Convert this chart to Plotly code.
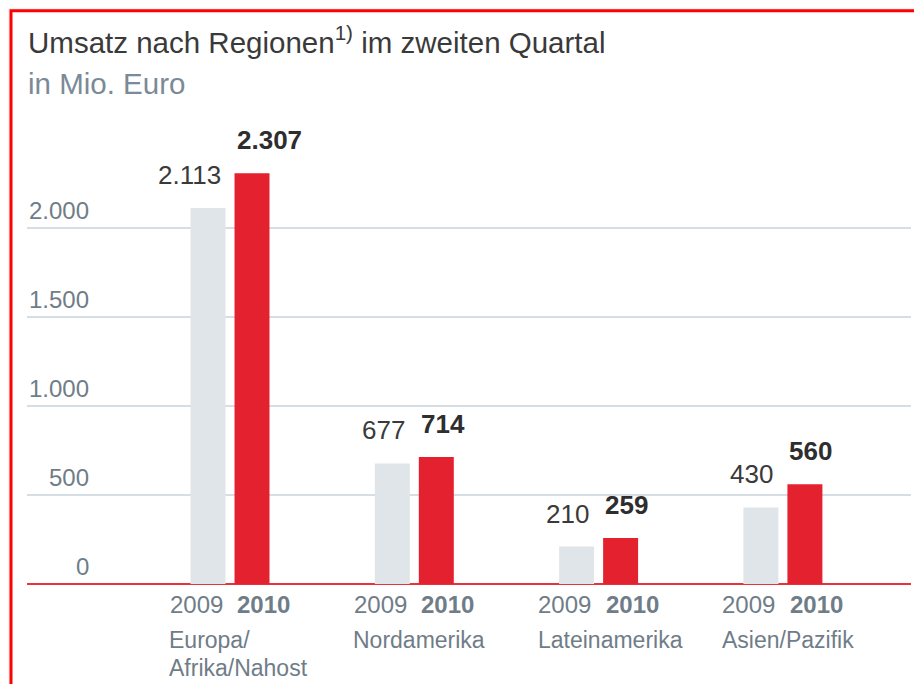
import plotly.graph_objects as go

# ---- data ----
regions = ["Europa/Afrika/Nahost", "Nordamerika", "Lateinamerika", "Asien/Pazifik"]
region_lines = [["Europa/", "Afrika/Nahost"], ["Nordamerika"], ["Lateinamerika"], ["Asien/Pazifik"]]
years = ["2009", "2010"]
sales_2009 = [2113, 677, 210, 430]
sales_2010 = [2307, 714, 259, 560]
y_ticks = [0, 500, 1000, 1500, 2000]
y_tick_labels = ["0", "500", "1.000", "1.500", "2.000"]

title_text = "Umsatz nach Regionen<sup>1)</sup> im zweiten Quartal"
subtitle_text = "in Mio. Euro"


def de(v):
    return f"{v:,}".replace(",", ".")


# ---- layout constants (figure sits 8px in from the page corner) ----
OFF = 8
W, H = 922 - OFF, 684 - OFF
ML, MR, MT, MB = 27 - OFF, 11, 110 - OFF, 100
PW = W - ML - MR
PH = H - MT - MB
ZERO_PX = H - MB


def px_x(p):  # p in page pixels
    return (p - OFF - ML) / PW


def px_y(p):
    return (ZERO_PX - (p - OFF)) / PH


FONT = "Liberation Sans, Arial, sans-serif"
C_GREY_BAR = "#dfe5e9"
C_RED_BAR = "#e4222f"
C_LABEL = "#3a3a3a"
C_AXIS_TXT = "#6f7d88"
C_GRID = "#d5dee5"

fig = go.Figure()
fig.add_trace(go.Bar(name=years[0], x=regions, y=sales_2009, marker_color=C_GREY_BAR,
                     marker_line_width=0, hoverinfo="x+y"))
fig.add_trace(go.Bar(name=years[1], x=regions, y=sales_2010, marker_color=C_RED_BAR,
                     marker_line_width=0, hoverinfo="x+y"))

ann = []
for i, (a, b) in enumerate(zip(sales_2009, sales_2010)):
    # value labels
    ann.append(dict(x=i, y=a, xref="x", yref="y", text=de(a), showarrow=False,
                    xanchor="right", yanchor="bottom", xshift=-7.5, yshift=16,
                    font=dict(family=FONT, size=26, color=C_LABEL)))
    ann.append(dict(x=i, y=b, xref="x", yref="y", text=de(b), showarrow=False,
                    xanchor="left", yanchor="bottom", xshift=4.5, yshift=16,
                    font=dict(family=FONT, size=26, color="#2e2e2e", weight="bold")))
    # year labels below the axis
    ann.append(dict(x=i, y=0, xref="x", yref="paper", text=years[0], showarrow=False,
                    xanchor="right", yanchor="top", xshift=-5.5, yshift=-5,
                    font=dict(family=FONT, size=24, color=C_AXIS_TXT)))
    ann.append(dict(x=i, y=0, xref="x", yref="paper", text="<b>" + years[1] + "</b>", showarrow=False,
                    xanchor="left", yanchor="top", xshift=5, yshift=-5,
                    font=dict(family=FONT, size=24, color=C_AXIS_TXT)))
    # region names, left aligned with the 2009 label
    for k, line in enumerate(region_lines[i]):
        ann.append(dict(x=i, y=0, xref="x", yref="paper", text=line, showarrow=False,
                        xanchor="left", yanchor="top", xshift=-63, yshift=-41 - 28 * k,
                        font=dict(family=FONT, size=23, color=C_AXIS_TXT)))

# y tick labels (above gridlines, right aligned)
for v, t in zip(y_ticks, y_tick_labels):
    ann.append(dict(x=px_x(91), y=v, xref="paper", yref="y", text=t, showarrow=False,
                    xanchor="right", yanchor="bottom", yshift=2,
                    font=dict(family=FONT, size=24, color=C_AXIS_TXT)))

# subtitle
ann.append(dict(x=px_x(26), y=px_y(102), xref="paper", yref="paper", text=subtitle_text,
                showarrow=False, xanchor="left", yanchor="bottom",
                font=dict(family=FONT, size=29.5, color="#7b8a96")))

fig.update_layout(
    width=W, height=H,
    margin=dict(l=ML, r=MR, t=MT, b=MB, pad=0),
    paper_bgcolor="#f3f3f3",
    plot_bgcolor="rgba(0,0,0,0)",
    showlegend=False,
    barmode="group",
    bargap=0.5225,
    bargroupgap=0.205,
    title=dict(text=title_text, x=(28 - OFF) / W, xref="container", xanchor="left",
               y=1 - (24 - OFF + 8) / H, yref="container", yanchor="top",
               font=dict(family=FONT, size=29.5, color="#3a3a3a")),
    xaxis=dict(type="category", range=[-1.1015, 3.695], showticklabels=False,
               showgrid=False, zeroline=False, showline=False, ticks=""),
    yaxis=dict(range=[0, PH * 2000 / 356], tickvals=y_ticks, showticklabels=False,
               showgrid=True, gridcolor=C_GRID, gridwidth=1.5,
               zeroline=True, zerolinecolor="#e8323c", zerolinewidth=1.5,
               showline=False, ticks=""),
    annotations=ann,
    shapes=[dict(type="rect", xref="paper", yref="paper",
                 x0=px_x(11), x1=px_x(922 + 30), y0=px_y(684 + 30), y1=px_y(10.7),
                 line=dict(color="#ff0000", width=3), fillcolor="white", layer="below")],
)

fig.write_html("out.html")
